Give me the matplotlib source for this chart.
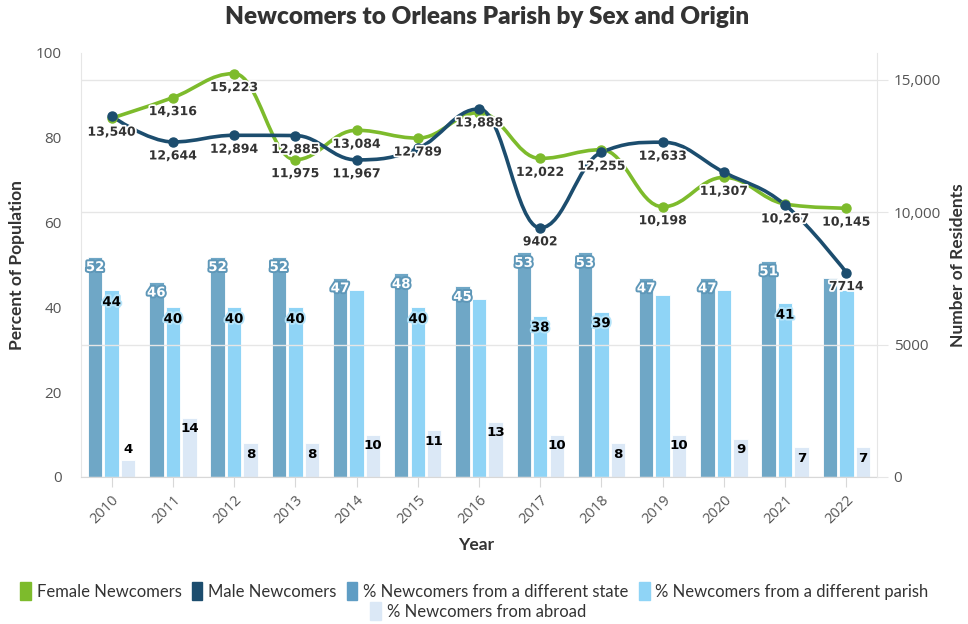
import numpy as np
import matplotlib.pyplot as plt
from matplotlib.path import Path
from matplotlib.patches import PathPatch, Patch
import matplotlib.patheffects as pe

# Data
years = [2010, 2011, 2012, 2013, 2014, 2015, 2016, 2017, 2018, 2019, 2020, 2021, 2022]
female = [13540, 14316, 15223, 11975, 13084, 12789, 13750, 12022, 12350, 10198, 11307, 10300, 10145]
male = [13620, 12644, 12894, 12885, 11967, 12400, 13888, 9402, 12255, 12633, 11500, 10267, 7714]
pct_state = [52, 46, 52, 52, 47, 48, 45, 53, 53, 47, 47, 51, 47]
pct_parish = [44, 40, 40, 40, 44, 40, 42, 38, 39, 43, 44, 41, 44]
pct_abroad = [4, 14, 8, 8, 10, 11, 13, 10, 8, 10, 9, 7, 7]

# which data labels are shown in the original (others hidden by overlap)
female_shown = [1, 1, 1, 1, 1, 1, 0, 1, 0, 1, 1, 0, 1]
male_shown = [0, 1, 1, 1, 1, 0, 1, 1, 1, 1, 0, 1, 1]
state_shown = [1, 1, 1, 1, 1, 1, 1, 1, 1, 1, 1, 1, 0]
parish_shown = [1, 1, 1, 1, 0, 1, 0, 1, 1, 0, 0, 1, 0]

# Colors
c_female = '#7dbb2c'
c_male = '#1c4d6e'
c_state = '#6fa7c6'
c_parish = '#8fd4f6'
c_abroad = '#dbe8f6'
grid_c = '#e6e6e6'
text_c = '#333333'


def fmt(v):
    return f'{v:,}' if v >= 10000 else str(v)


def spline_path(xs, ys, smoothing=1.5):
    # Highcharts-style spline through the data points
    denom = smoothing + 1
    n = len(xs)
    lc = [(xs[i], ys[i]) for i in range(n)]
    rc = [(xs[i], ys[i]) for i in range(n)]
    for i in range(1, n - 1):
        px, py = xs[i], ys[i]
        lx, ly = xs[i - 1], ys[i - 1]
        nx, ny = xs[i + 1], ys[i + 1]
        lcx = (smoothing * px + lx) / denom
        lcy = (smoothing * py + ly) / denom
        rcx = (smoothing * px + nx) / denom
        rcy = (smoothing * py + ny) / denom
        if rcx != lcx:
            corr = ((rcy - lcy) * (rcx - px)) / (rcx - lcx) + py - rcy
            lcy += corr
            rcy += corr
        if lcy > ly and lcy > py:
            lcy = max(ly, py)
            rcy = 2 * py - lcy
        elif lcy < ly and lcy < py:
            lcy = min(ly, py)
            rcy = 2 * py - lcy
        if rcy > ny and rcy > py:
            rcy = max(ny, py)
            lcy = 2 * py - rcy
        elif rcy < ny and rcy < py:
            rcy = min(ny, py)
            lcy = 2 * py - rcy
        lc[i] = (lcx, lcy)
        rc[i] = (rcx, rcy)
    verts = [(xs[0], ys[0])]
    codes = [Path.MOVETO]
    for i in range(1, n):
        verts += [rc[i - 1], lc[i], (xs[i], ys[i])]
        codes += [Path.CURVE4] * 3
    return Path(verts, codes)


plt.rcParams['font.family'] = ['Open Sans', 'DejaVu Sans']

fig = plt.figure(figsize=(9.68, 6.24), dpi=100)
ax = fig.add_axes([81 / 968, 1 - 477 / 624, 796 / 968, 424 / 624])
ax2 = ax.twinx()

x = np.array(years, dtype=float)
w = 0.235
off = 0.27

ax.bar(x - off, pct_state, w, color=c_state, edgecolor='white', linewidth=0.6, zorder=2)
ax.bar(x, pct_parish, w, color=c_parish, edgecolor='white', linewidth=0.6, zorder=2)
ax.bar(x + off, pct_abroad, w, color=c_abroad, edgecolor='white', linewidth=0.6, zorder=2)

bar_font = dict(fontsize=9.6, fontweight='bold', family='DejaVu Sans')
line_font = dict(fontsize=9.0, fontweight='bold', family='DejaVu Sans')
for xi, v, s in zip(x - off, pct_state, state_shown):
    if s:
        ax.annotate(str(v), (xi, v), xytext=(0, -11), textcoords='offset pixels',
                    ha='center', va='center', color='white', zorder=5,
                    path_effects=[pe.withStroke(linewidth=2.8, foreground='#5e97b8')], **bar_font)
for xi, v, s in zip(x, pct_parish, parish_shown):
    if s:
        ax.annotate(str(v), (xi, v), xytext=(0, -12), textcoords='offset pixels',
                    ha='center', va='center', color='black', zorder=5,
                    path_effects=[pe.withStroke(linewidth=2.8, foreground='#b5e4fa')], **bar_font)
for xi, v in zip(x + off, pct_abroad):
    dy = -11 if v >= 6 else 11
    ax.annotate(str(v), (xi, v), xytext=(0, dy), textcoords='offset pixels',
                ha='center', va='center', color='black', zorder=5, **bar_font)

# spline lines on the right axis
for ys, col in [(female, c_female), (male, c_male)]:
    ax2.add_patch(PathPatch(spline_path(list(x), ys), facecolor='none', edgecolor=col,
                            linewidth=2.6, zorder=3, capstyle='round', joinstyle='round'))
    ax2.plot(x, ys, linestyle='none', marker='o', markersize=6.5, color=col, zorder=4)

for ys, shown in [(female, female_shown), (male, male_shown)]:
    for xi, v, s in zip(x, ys, shown):
        if s:
            ax2.annotate(fmt(v), (xi, v), xytext=(0, -14), textcoords='offset pixels',
                         ha='center', va='center', color=text_c, zorder=6,
                         path_effects=[pe.withStroke(linewidth=2.5, foreground='white')], **line_font)

# axes setup
ax.set_xlim(2009.5, 2022.5)
ax.set_ylim(0, 100)
ax2.set_ylim(0, 16000)
ax.set_yticks([0, 20, 40, 60, 80, 100])
ax2.set_yticks([0, 5000, 10000, 15000])
ax2.set_yticklabels(['0', '5000', '10,000', '15,000'])
ax.set_xticks(years)
ax.set_xticklabels([str(y) for y in years], rotation=45, ha='right', rotation_mode='anchor')

ax2.yaxis.grid(True, color=grid_c, linewidth=1)
ax2.set_axisbelow(True)
ax.set_zorder(1)
ax.patch.set_visible(False)
ax2.set_zorder(2)
ax2.patch.set_visible(False)

for a in (ax, ax2):
    for sp in a.spines.values():
        sp.set_visible(False)
ax.spines['left'].set_visible(True)
ax.spines['left'].set_color(grid_c)
ax.spines['bottom'].set_visible(True)
ax.spines['bottom'].set_color('#d8d8d8')
ax2.spines['right'].set_visible(True)
ax2.spines['right'].set_color(grid_c)

ax.tick_params(axis='y', length=0, pad=14, labelsize=11, labelcolor='#555555')
ax.tick_params(axis='x', length=7, color='#d8d8d8', pad=4, labelsize=10.5, labelcolor='#555555')
ax2.tick_params(axis='y', length=8, color=grid_c, pad=4, labelsize=11, labelcolor='#555555')

ax.set_ylabel('Percent of Population', fontsize=12.5, fontweight='bold', color=text_c, family='Lato')
ax.yaxis.label.set_va('center')
ax.yaxis.set_label_coords(-0.080, 0.5)
ax2.set_ylabel('Number of Residents', fontsize=12.5, fontweight='bold', color=text_c, family='Lato')
ax2.yaxis.label.set_va('center')
ax2.yaxis.set_label_coords(1.102, 0.5)
ax.set_xlabel('Year', fontsize=12.5, fontweight='bold', color=text_c, family='Lato')
ax.xaxis.label.set_va('center')
ax.xaxis.set_label_coords(0.496, -0.160)

fig.text(0.503, 1 - 17 / 624, 'Newcomers to Orleans Parish by Sex and Origin', ha='center', va='center',
         fontsize=17.5, fontweight='heavy', color=text_c, family='Lato')

# legend
h1 = [Patch(color=c_female, label='Female Newcomers'),
      Patch(color=c_male, label='Male Newcomers'),
      Patch(color='#5f9dc4', label='% Newcomers from a different state'),
      Patch(color=c_parish, label='% Newcomers from a different parish')]
h2 = [Patch(color=c_abroad, label='% Newcomers from abroad')]
leg_kw = dict(frameon=False, handlelength=0.65, handleheight=1.3, handletextpad=0.35,
              columnspacing=0.6, prop={'family': 'Lato', 'size': 12})
lg1 = fig.legend(handles=h1, ncol=4, loc='center', bbox_to_anchor=(0.49, 1 - 591 / 624), **leg_kw)
for t in lg1.get_texts():
    t.set_color(text_c)
lg2 = fig.legend(handles=h2, ncol=1, loc='center', bbox_to_anchor=(0.494, 1 - 611 / 624), **leg_kw)
for t in lg2.get_texts():
    t.set_color(text_c)

fig.savefig('out.png', dpi=100)
